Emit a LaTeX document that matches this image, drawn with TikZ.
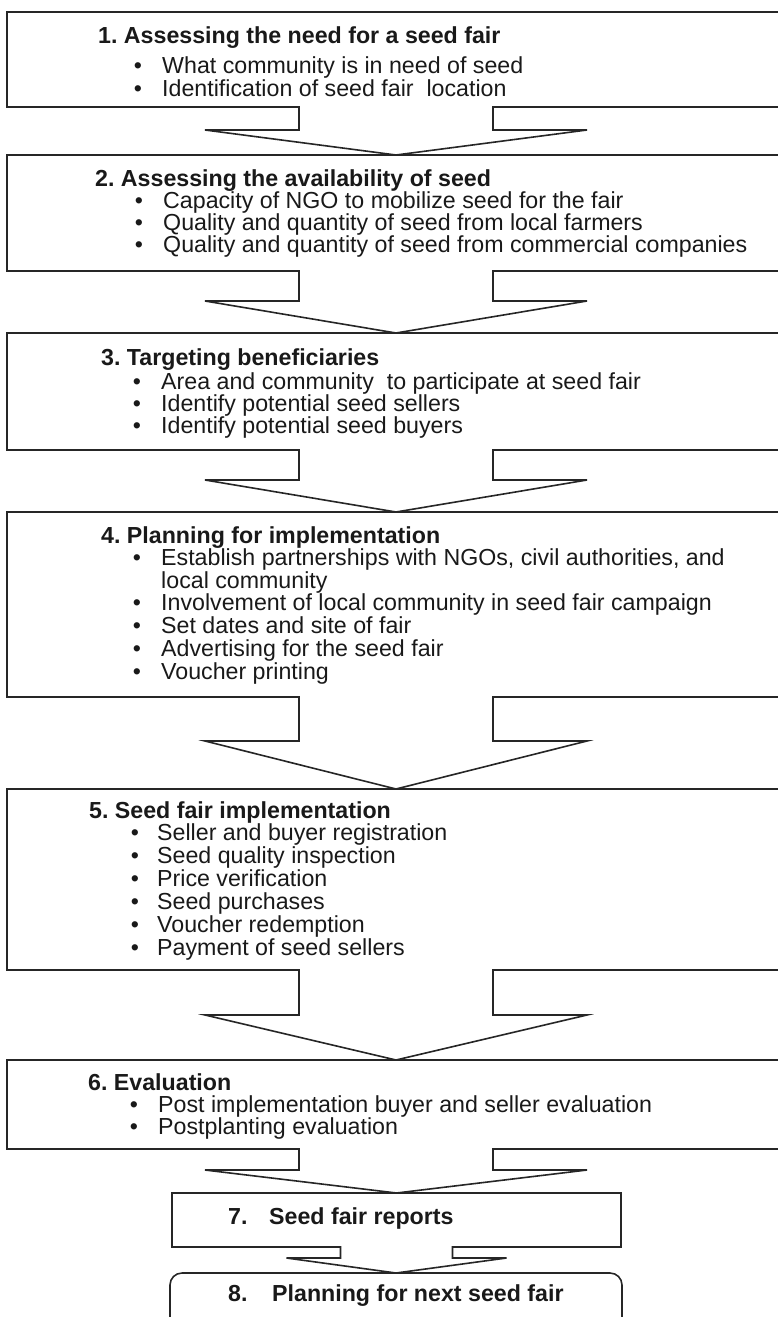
\documentclass[tikz,border=0pt]{standalone}
\usepackage{fontspec}
\setmainfont{Liberation Sans}
\usetikzlibrary{calc}
\frenchspacing
\tikzset{
  stagebox/.style={draw=black!85, line width=1.6pt, rectangle, inner sep=0pt, outer sep=0pt, anchor=north west},
  arrowline/.style={draw=black!85, line width=1.6pt, fill=white, line join=miter},
  titletext/.style={anchor=base west, inner sep=0pt, text=black!90, font=\fontsize{23.2}{23}\selectfont\bfseries},
  itemtext/.style={anchor=base west, inner sep=0pt, text=black!90, font=\fontsize{23.2}{23}\selectfont},
  bulletdot/.style={anchor=base, inner sep=0pt, text=black!90, font=\fontsize{23.2}{23}\selectfont},
}
% #1 from node, #2 to node, #3 stem half width, #4 wing half width, #5 stem length
\newcommand{\stagearrow}[5]{%
  \filldraw[arrowline] ($(#1.south)+(-#3,-1)$) -- ($(#1.south)+(-#3,#5)$) -- ($(#1.south)+(-#4,#5)$)
    -- (#2.north) -- ($(#1.south)+(#4,#5)$) -- ($(#1.south)+(#3,#5)$) -- ($(#1.south)+(#3,-1)$);}
\begin{document}
\begin{tikzpicture}[x=1pt,y=-1pt]
\useasboundingbox (0,0) rectangle (778,1317);
\clip (0,0) rectangle (778,1317);

% boxes
\node[stagebox, minimum width=778pt, minimum height=95pt] (b1) at (7,12) {};
\node[stagebox, minimum width=778pt, minimum height=116pt] (b2) at (7,155) {};
\node[stagebox, minimum width=778pt, minimum height=117pt] (b3) at (7,333) {};
\node[stagebox, minimum width=778pt, minimum height=185pt] (b4) at (7,512) {};
\node[stagebox, minimum width=778pt, minimum height=181pt] (b5) at (7,789) {};
\node[stagebox, minimum width=778pt, minimum height=89pt] (b6) at (7,1060) {};
\node[stagebox, minimum width=449pt, minimum height=54pt] (b7) at (172,1193) {};
\node[stagebox, rounded corners=12pt, minimum width=452pt, minimum height=80pt] (b8) at (170,1273) {};

% arrows
\stagearrow{b1}{b2}{97}{191}{23}
\stagearrow{b2}{b3}{97}{191}{30}
\stagearrow{b3}{b4}{97}{191}{30}
\stagearrow{b4}{b5}{97}{191}{44}
\stagearrow{b5}{b6}{97}{191}{45}
\stagearrow{b6}{b7}{97}{191}{21}
\stagearrow{b7}{b8}{56}{110}{11}

% box 1
\node[titletext] (t1) at (98,43) {1. Assessing the need for a seed fair};
\node[bulletdot] (d11) at (138,73) {•};
\node[itemtext] (i11) at (162,73) {What community is in need of seed};
\node[bulletdot] (d12) at (138,96) {•};
\node[itemtext] (i12) at (162,96) {Identification of seed fair\ \ location};

% box 2
\node[titletext] (t2) at (95,186) {2. Assessing the availability of seed};
\node[bulletdot] (d21) at (139,208) {•};
\node[itemtext] (i21) at (163,208) {Capacity of NGO to mobilize seed for the fair};
\node[bulletdot] (d22) at (139,230) {•};
\node[itemtext] (i22) at (163,230) {Quality and quantity of seed from local farmers};
\node[bulletdot] (d23) at (139,252) {•};
\node[itemtext] (i23) at (163,252) {Quality and quantity of seed from commercial companies};

% box 3
\node[titletext] (t3) at (101,365) {3. Targeting beneficiaries};
\node[bulletdot] (d31) at (137,389) {•};
\node[itemtext] (i31) at (161,389) {Area and community\ \ to participate at seed fair};
\node[bulletdot] (d32) at (137,411) {•};
\node[itemtext] (i32) at (161,411) {Identify potential seed sellers};
\node[bulletdot] (d33) at (137,433) {•};
\node[itemtext] (i33) at (161,433) {Identify potential seed buyers};

% box 4
\node[titletext] (t4) at (101,543) {4. Planning for implementation};
\node[bulletdot] (d41) at (137,565) {•};
\node[itemtext] (i41) at (161,565) {Establish partnerships with NGOs, civil authorities, and};
\node[itemtext] (i41b) at (161,588) {local community};
\node[bulletdot] (d42) at (137,610) {•};
\node[itemtext] (i42) at (161,610) {Involvement of local community in seed fair campaign};
\node[bulletdot] (d43) at (137,633) {•};
\node[itemtext] (i43) at (161,633) {Set dates and site of fair};
\node[bulletdot] (d44) at (137,656) {•};
\node[itemtext] (i44) at (161,656) {Advertising for the seed fair};
\node[bulletdot] (d45) at (137,679) {•};
\node[itemtext] (i45) at (161,679) {Voucher printing};

% box 5
\node[titletext] (t5) at (89,818) {5. Seed fair implementation};
\node[bulletdot] (d51) at (135,840) {•};
\node[itemtext] (i51) at (157,840) {Seller and buyer registration};
\node[bulletdot] (d52) at (135,863) {•};
\node[itemtext] (i52) at (157,863) {Seed quality inspection};
\node[bulletdot] (d53) at (135,886) {•};
\node[itemtext] (i53) at (157,886) {Price verification};
\node[bulletdot] (d54) at (135,909) {•};
\node[itemtext] (i54) at (157,909) {Seed purchases};
\node[bulletdot] (d55) at (135,932) {•};
\node[itemtext] (i55) at (157,932) {Voucher redemption};
\node[bulletdot] (d56) at (135,955) {•};
\node[itemtext] (i56) at (157,955) {Payment of seed sellers};

% box 6
\node[titletext] (t6) at (88,1090) {6. Evaluation};
\node[bulletdot] (d61) at (134,1112) {•};
\node[itemtext] (i61) at (158,1112) {Post implementation buyer and seller evaluation};
\node[bulletdot] (d62) at (134,1134) {•};
\node[itemtext] (i62) at (158,1134) {Postplanting evaluation};

% box 7, 8
\node[titletext] (t7) at (228,1224) {\makebox[41pt][l]{7.}Seed fair reports};
\node[titletext] (t8) at (228,1301) {\makebox[44pt][l]{8.}Planning for next seed fair};
\end{tikzpicture}
\end{document}
